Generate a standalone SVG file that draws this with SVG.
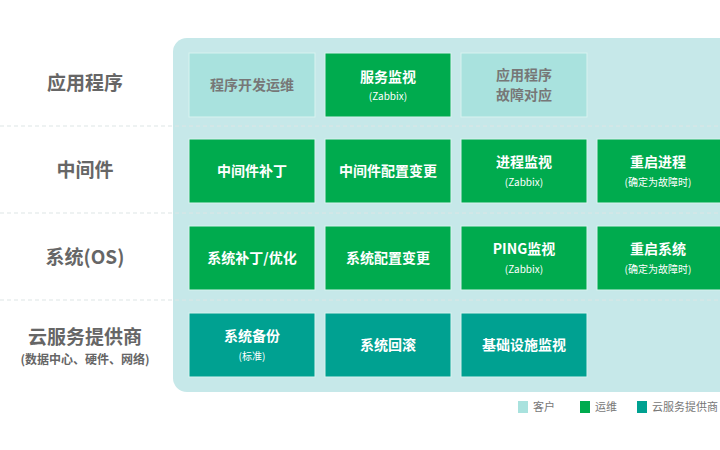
<svg xmlns="http://www.w3.org/2000/svg" width="720" height="450" viewBox="0 0 720 450">
<style>
text{font-family:"Noto Sans CJK SC","Noto Sans",sans-serif;text-anchor:middle;font-weight:bold}
.lab{fill:#666;font-size:19px}
.sub{fill:#666;font-size:12px}
.t{fill:#fff;font-size:14px}
.s{fill:#fff;font-size:10px;font-weight:normal}
.c{fill:#a9e2de;stroke:#d8f2f0}
.o{fill:#00ab4e;stroke:#d8f2f0}
.p{fill:#00a191;stroke:#d8f2f0}
.ct{fill:#777;font-size:14px}
.div{stroke:#dde5e5;stroke-dasharray:4 3}
.lg{fill:#777;font-size:11px;font-weight:normal;text-anchor:start}
</style>
<rect width="720" height="450" fill="#fff"/>
<rect x="173" y="38" width="580" height="354" rx="14" fill="#c6e8e9"/>
<g id="dividers">
<line class="div" x1="0" y1="126" x2="720" y2="126"/>
<line class="div" x1="0" y1="213" x2="720" y2="213"/>
<line class="div" x1="0" y1="300" x2="720" y2="300"/>
</g>
<g id="labels">
<text class="lab" x="85" y="90">应用程序</text>
<text class="lab" x="85" y="177">中间件</text>
<text class="lab" x="85" y="264">系统(OS)</text>
<text class="lab" x="85" y="344">云服务提供商</text>
<text class="sub" x="85" y="364">(数据中心、硬件、网络)</text>
</g>
<g id="n1"><rect class="c" x="189" y="53" width="126" height="64"/><text class="ct" x="252" y="90">程序开发运维</text></g>
<g id="n2"><rect class="o" x="325" y="53" width="126" height="64"/><text class="t" x="388" y="82">服务监视</text><text class="s" x="388" y="100">(Zabbix)</text></g>
<g id="n3"><rect class="c" x="461" y="53" width="126" height="64"/><text class="ct" x="524" y="80">应用程序</text><text class="ct" x="524" y="100">故障对应</text></g>
<g id="n4"><rect class="o" x="189" y="139" width="126" height="64"/><text class="t" x="252" y="176">中间件补丁</text></g>
<g id="n5"><rect class="o" x="325" y="139" width="126" height="64"/><text class="t" x="388" y="176">中间件配置变更</text></g>
<g id="n6"><rect class="o" x="461" y="139" width="126" height="64"/><text class="t" x="524" y="167">进程监视</text><text class="s" x="524" y="186">(Zabbix)</text></g>
<g id="n7"><rect class="o" x="597" y="139" width="130" height="64"/><text class="t" x="658" y="167">重启进程</text><text class="s" x="658" y="186">(确定为故障时)</text></g>
<g id="n8"><rect class="o" x="189" y="226" width="126" height="64"/><text class="t" x="252" y="263">系统补丁/优化</text></g>
<g id="n9"><rect class="o" x="325" y="226" width="126" height="64"/><text class="t" x="388" y="263">系统配置变更</text></g>
<g id="n10"><rect class="o" x="461" y="226" width="126" height="64"/><text class="t" x="524" y="254">PING监视</text><text class="s" x="524" y="273">(Zabbix)</text></g>
<g id="n11"><rect class="o" x="597" y="226" width="130" height="64"/><text class="t" x="658" y="254">重启系统</text><text class="s" x="658" y="273">(确定为故障时)</text></g>
<g id="n12"><rect class="p" x="189" y="313" width="126" height="64"/><text class="t" x="252" y="341">系统备份</text><text class="s" x="252" y="360">(标准)</text></g>
<g id="n13"><rect class="p" x="325" y="313" width="126" height="64"/><text class="t" x="388" y="350">系统回滚</text></g>
<g id="n14"><rect class="p" x="461" y="313" width="126" height="64"/><text class="t" x="524" y="350">基础设施监视</text></g>
<g id="legend">
<rect x="518" y="401" width="10" height="12" fill="#a9e2de"/><text class="lg" x="533" y="411">客户</text>
<rect x="580" y="401" width="10" height="12" fill="#00ab4e"/><text class="lg" x="595" y="411">运维</text>
<rect x="637" y="401" width="10" height="12" fill="#00a191"/><text class="lg" x="652" y="411">云服务提供商</text>
</g>
</svg>
